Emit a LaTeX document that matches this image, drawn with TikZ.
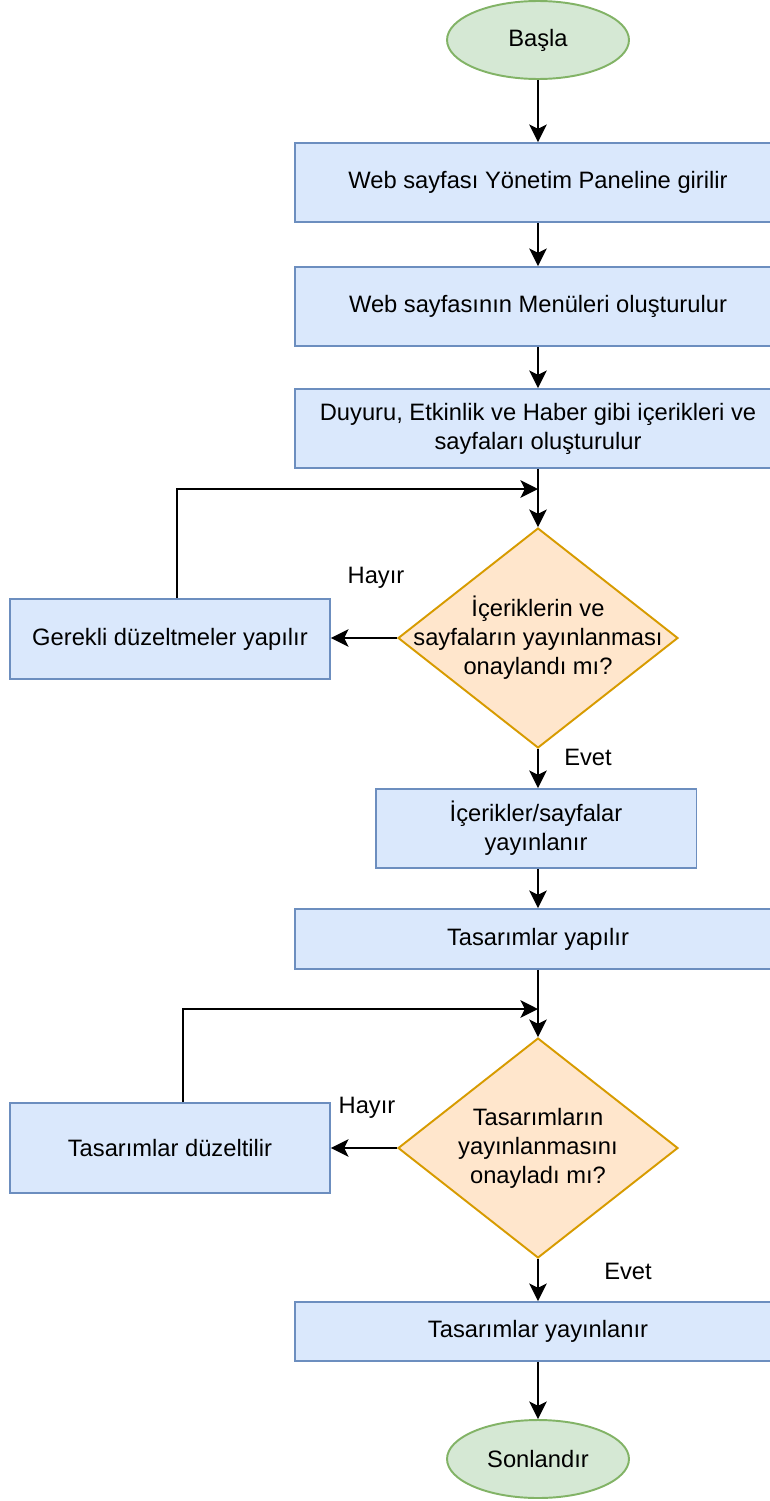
\documentclass[tikz,border=0pt]{standalone}
\usepackage{fontspec}
\setmainfont{Liberation Sans}
\usetikzlibrary{shapes.geometric,arrows.meta}
\definecolor{boxfill}{HTML}{DAE8FC}
\definecolor{boxline}{HTML}{6C8EBF}
\definecolor{askfill}{HTML}{FFE6CC}
\definecolor{askline}{HTML}{D79B00}
\definecolor{endfill}{HTML}{D5E8D4}
\definecolor{endline}{HTML}{82B366}
\tikzset{
every node/.style={font=\fontsize{13.5}{16.5}\selectfont,align=center},
stepbox/.style={rectangle,draw=boxline,fill=boxfill,line width=1.1pt,minimum width=9.72cm,minimum height=1.58cm,inner sep=0pt},
decision/.style={diamond,draw=askline,fill=askfill,line width=1.1pt,minimum width=5.6cm,minimum height=4.4cm,inner sep=0pt},
terminal/.style={ellipse,draw=endline,fill=endfill,line width=1.1pt,minimum width=3.64cm,minimum height=1.56cm,inner sep=0pt},
flow/.style={-{Stealth[length=10pt,width=10pt,inset=2.5pt]},line width=1.3pt}
}
\begin{document}
\begin{tikzpicture}[x=0.02cm,y=-0.02cm]
\useasboundingbox(0,0) rectangle (769,1501);
\node[terminal](start) at (538,40){Başla};
\node[stepbox](panel) at (538,182.5){Web sayfası Yönetim Paneline girilir};
\node[stepbox](menu) at (538,306.5){Web sayfasının Menüleri oluşturulur};
\node[stepbox](content) at (538,428.5){Duyuru, Etkinlik ve Haber gibi içerikleri ve\\sayfaları oluşturulur};
\node[decision,label={center:{İçeriklerin ve\\sayfaların yayınlanması\\onaylandı mı?}}](ask1) at (538,638){};
\node[stepbox,minimum width=6.4cm,minimum height=1.6cm](fix1) at (170,639){Gerekli düzeltmeler yapılır};
\node[stepbox,minimum width=6.42cm](publish) at (536,828.5){İçerikler/sayfalar\\yayınlanır};
\node[stepbox,minimum height=1.2cm](design) at (538,939){Tasarımlar yapılır};
\node[decision,label={center:{Tasarımların\\yayınlanmasını\\onayladı mı?}}](ask2) at (538,1148){};
\node[stepbox,minimum width=6.4cm,minimum height=1.8cm](fix2) at (170,1148){Tasarımlar düzeltilir};
\node[stepbox,minimum height=1.18cm](release) at (538,1331.5){Tasarımlar yayınlanır};
\node[terminal](stop) at (538,1459){Sonlandır};
\node(no1) at (376,578){Hayır};
\node(yes1) at (588,757){Evet};
\node(no2) at (367,1108){Hayır};
\node(yes2) at (628,1271){Evet};
\coordinate(join1) at (538,489);
\coordinate(join2) at (538,1009);
\draw[flow](start)--(panel);
\draw[flow](panel)--(menu);
\draw[flow](menu)--(content);
\draw[flow](content)--(ask1);
\draw[flow](ask1.west)--(ask1.west-|fix1.east);
\draw[flow]([xshift=0.14cm]fix1.north)|-(join1);
\draw[flow](ask1.south)--(ask1.south|-publish.north);
\draw[flow](publish.south-|design.north)--(design);
\draw[flow](design)--(ask2);
\draw[flow](ask2.west)--(ask2.west-|fix2.east);
\draw[flow]([xshift=0.26cm]fix2.north)|-(join2);
\draw[flow](ask2)--(release);
\draw[flow](release)--(stop);
\end{tikzpicture}
\end{document}
